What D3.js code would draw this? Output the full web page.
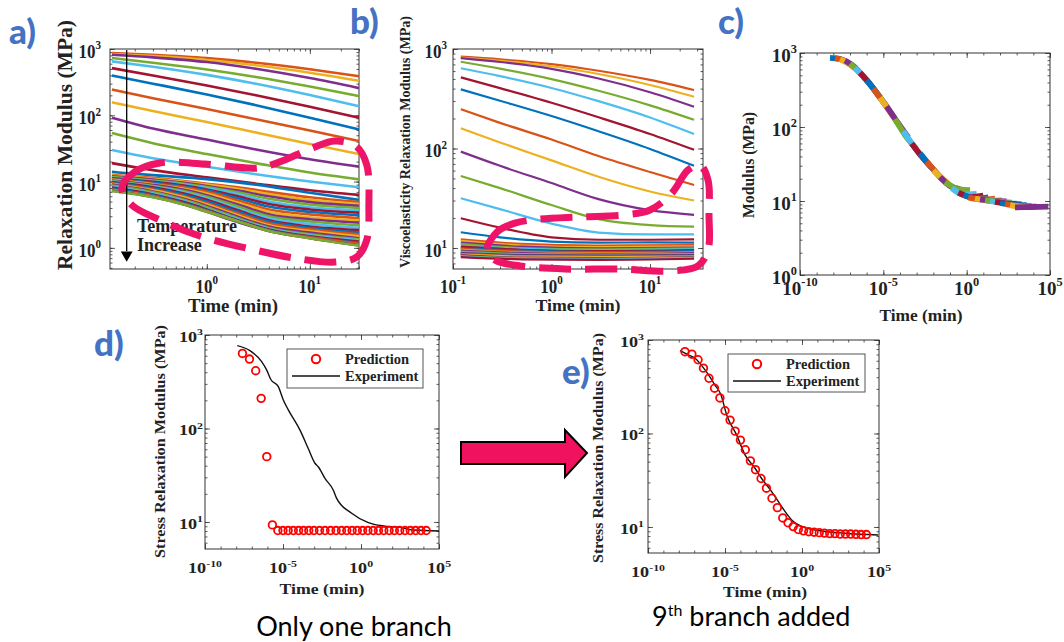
<!DOCTYPE html>
<html><head><meta charset="utf-8">
<script src="https://cdn.jsdelivr.net/npm/d3@7"></script>
<style>
body{margin:0;background:#fff}
svg{display:block;background:#fff}
.ser{font-family:"Liberation Serif","Times New Roman",serif;font-weight:bold;fill:#222}
</style></head>
<body><svg id="fig" width="1064" height="642"></svg>
<script>
// ---------------- DATA ----------------
const matlabColors = ["#0072BD","#D95319","#EDB120","#7E2F8E","#77AC30","#4DBEEE","#A2142F"];

// Panel a: relaxation modulus (MPa) vs time (min)
const aTime = [0.12, 0.3, 1, 3, 10, 30];
const aUpperCurves = [
  [871, 817, 729, 621, 495, 389],
  [840, 780, 684, 568, 438, 331],
  [820, 748, 635, 504, 364, 257],
  [730, 622, 491, 378, 271, 195],
  [650, 540, 407, 299, 202, 137],
  [515, 398, 282, 200, 135, 92],
  [397, 300, 206, 142, 92, 61],
  [245, 181, 124, 87, 59, 41],
  [157, 116, 79, 55, 37, 26],
  [92, 63, 43, 30.5, 21.7, 16.8],
  [54, 38, 26, 19, 13.7, 10.8],
  [30, 22.5, 16.7, 12.9, 10, 8.2],
  [19, 14.9, 11.6, 9.3, 7.4, 6.3],
  [14, 12.5, 10.9, 9.0, 6.8, 5.3]
];
const aBundleTime = [0.12, 0.3, 0.6, 1, 2, 4, 10, 30];
const aBundleCurves = [
  [12.6, 11.4, 10.2, 9.3, 8.2, 7.0, 5.8, 4.9],
  [12.3, 11.0, 9.9, 9.0, 7.8, 6.5, 5.3, 4.6],
  [12.0, 10.7, 9.6, 8.6, 7.3, 6.0, 4.9, 4.3],
  [11.7, 10.4, 9.3, 8.3, 6.9, 5.5, 4.5, 4.0],
  [11.4, 10.1, 9.0, 8.0, 6.5, 5.0, 4.1, 3.7],
  [11.2, 9.9, 8.7, 7.6, 6.0, 4.6, 3.8, 3.4],
  [11.0, 9.6, 8.4, 7.3, 5.6, 4.2, 3.5, 3.1],
  [10.8, 9.3, 8.1, 7.0, 5.2, 3.8, 3.2, 2.8],
  [10.6, 9.1, 7.8, 6.6, 4.8, 3.5, 2.9, 2.6],
  [10.4, 8.9, 7.5, 6.2, 4.5, 3.2, 2.7, 2.4],
  [10.2, 8.6, 7.2, 5.9, 4.2, 3.0, 2.5, 2.2],
  [10.0, 8.4, 6.9, 5.6, 3.9, 2.8, 2.3, 2.0],
  [9.8, 8.2, 6.6, 5.3, 3.7, 2.6, 2.1, 1.85],
  [9.6, 7.9, 6.3, 5.0, 3.5, 2.5, 2.0, 1.7],
  [9.4, 7.6, 6.0, 4.7, 3.3, 2.35, 1.9, 1.6],
  [9.2, 7.4, 5.8, 4.5, 3.1, 2.2, 1.8, 1.5],
  [9.0, 7.1, 5.5, 4.3, 2.95, 2.1, 1.7, 1.4],
  [8.7, 6.9, 5.3, 4.1, 2.8, 2.0, 1.6, 1.35],
  [8.4, 6.6, 5.1, 3.9, 2.7, 1.95, 1.55, 1.3],
  [8.1, 6.4, 4.9, 3.8, 2.6, 1.9, 1.5, 1.25],
  [7.8, 6.2, 4.7, 3.7, 2.55, 1.85, 1.45, 1.2],
  [7.6, 6.0, 4.6, 3.6, 2.5, 1.8, 1.45, 1.15],
  [7.4, 5.9, 4.5, 3.55, 2.5, 1.8, 1.4, 1.1],
  [7.3, 5.85, 4.5, 3.5, 2.45, 1.8, 1.4, 1.1],
  [7.2, 5.8, 4.5, 3.5, 2.5, 1.8, 1.4, 1.08]
];
// dashed annotation outline in panel a (time, modulus)
const aHighlight = [[0.15,8.0],[0.2,14],[0.35,19.1],[0.96,18.4],[3.13,16.0],[5.1,19.8],[10.5,32],[17.5,41],[28,34.4],[35.7,17.8],[37.4,4.4],[35.7,1.32],[28.6,0.73],[17.5,0.61],[8.0,0.68],[2.92,0.93],[0.855,1.51],[0.35,2.64],[0.187,4.44]];
const aArrowTime = 0.167, aArrowFrom = 1000, aArrowTo = 0.68;

// Panel b: viscoelasticity relaxation modulus
const bTime = [0.12, 0.3, 1, 3, 10, 28];
const bUpperCurves = [
  [837, 787, 706, 605, 489, 387],
  [820, 762, 671, 561, 435, 331],
  [809, 740, 632, 505, 368, 263],
  [745, 634, 498, 380, 271, 194],
  [640, 533, 406, 299, 205, 140],
  [519, 404, 288, 206, 140, 97],
  [393, 302, 212, 149, 99, 67],
  [248, 181, 123, 84, 58, 43],
  [160, 115, 76, 52, 37, 30],
  [93, 67, 45, 31, 24, 21.5],
  [53, 40, 27, 19.5, 17, 16.4],
  [31.6, 24.6, 17.6, 14.3, 13.7, 13.7],
  [19.9, 16.0, 12.8, 12.1, 12.1, 12.2],
  [14.4, 12.8, 11.6, 11.3, 11.4, 11.3]
];
const bBundleTime = [0.12, 0.5, 3, 28];
const bBundleCurves = [
  [12.2, 11.0, 10.6, 10.7],[11.8, 10.6, 10.2, 10.4],[11.3, 10.3, 9.9, 10.1],
  [11.0, 10.0, 9.7, 9.9],[10.6, 9.8, 9.5, 9.7],[10.3, 9.6, 9.3, 9.5],
  [10.0, 9.4, 9.1, 9.3],[9.8, 9.2, 9.0, 9.1],[9.6, 9.0, 8.8, 9.0],
  [9.4, 8.9, 8.7, 8.9],[9.2, 8.7, 8.6, 8.7],[9.0, 8.6, 8.5, 8.6],
  [8.9, 8.5, 8.4, 8.5],[8.8, 8.4, 8.3, 8.4],[8.7, 8.3, 8.2, 8.3],
  [8.6, 8.2, 8.1, 8.2],[8.5, 8.0, 7.9, 8.1],[8.3, 7.9, 7.8, 8.0],
  [8.2, 7.8, 7.7, 7.9],[8.1, 7.7, 7.6, 7.8]
];
const bHighlight = [[0.221,9.55],[0.28,14.5],[0.425,17.8],[0.764,19.5],[1.95,20.5],[5.57,21.5],[10.0,24.1],[16.7,35.7],[24.3,60.8],[32.2,68.2],[38.8,48.2],[39.7,21.5],[38.8,9.55],[30.7,6.6],[16.0,5.87],[4.95,6.15],[1.37,6.15],[0.479,6.6],[0.267,7.57]];

// Panel c: shifted master-curve segments, [log10 time, modulus]
const cSegments = [
  [[-8.2,860],[-7.6,830],[-7.0,700]],
  [[-7.9,850],[-7.3,780],[-6.7,620]],
  [[-7.6,820],[-7.0,700],[-6.4,540]],
  [[-7.3,790],[-6.7,640],[-6.1,450]],
  [[-7.0,720],[-6.4,540],[-5.8,380]],
  [[-6.7,630],[-6.1,450],[-5.5,310]],
  [[-6.4,540],[-5.8,380],[-5.2,250]],
  [[-6.0,430],[-5.4,290],[-4.8,190]],
  [[-5.6,330],[-5.0,215],[-4.4,140]],
  [[-5.2,250],[-4.6,160],[-4.0,102]],
  [[-4.8,190],[-4.2,120],[-3.5,72]],
  [[-4.3,128],[-3.7,78],[-3.0,50]],
  [[-3.8,88],[-3.2,56],[-2.6,38]],
  [[-3.3,60],[-2.7,40],[-2.1,28]],
  [[-2.8,44],[-2.2,30],[-1.6,21]],
  [[-2.4,34],[-1.8,24],[-1.2,17.5]],
  [[-2.0,26],[-1.4,19.5],[-0.8,15]],
  [[-1.6,21],[-1.0,16],[-0.4,14.5]],
  [[-1.3,18],[-0.5,14.5],[0.2,14]],
  [[-0.9,15],[-0.2,12.2],[0.6,12.5]],
  [[-0.5,13],[0.3,11.3],[1.0,11.8]],
  [[-0.2,12],[0.6,10.8],[1.3,11.2]],
  [[0.1,11.2],[0.9,10.5],[1.7,10.8]],
  [[0.5,10.8],[1.3,10.2],[2.1,10.3]],
  [[0.8,10.5],[1.6,10.0],[2.4,9.9]],
  [[1.1,10.2],[1.9,9.8],[2.7,9.5]],
  [[1.4,10.0],[2.2,9.4],[3.0,9.2]],
  [[1.7,9.7],[2.5,9.2],[3.3,9.0]],
  [[2.0,9.4],[2.8,8.9],[3.6,8.8]],
  [[2.3,9.1],[3.1,8.6],[3.9,8.6]],
  [[2.6,8.8],[3.4,8.3],[4.2,8.5]],
  [[2.9,8.2],[3.9,8.3],[4.9,8.4]]
];

// Panels d, e: prediction vs experiment, [log10 time]
const predLogTime = [-7.6,-7.15,-6.75,-6.4,-6.04,-5.68,-5.33,-5.0,-4.67,-4.34,-4.0,-3.68,-3.35,-3.02,-2.66,-2.31,-1.95,-1.6,-1.25,-0.91,-0.57,-0.24,0.1,0.44,0.78,1.12,1.46,1.8,2.14,2.48,2.82,3.16,3.5,3.84,4.18];
const dPrediction = [635,553,415,210,50,9.3,8.1,8.1,8.1,8.1,8.1,8.1,8.1,8.1,8.1,8.1,8.1,8.1,8.1,8.1,8.1,8.1,8.1,8.1,8.1,8.1,8.1,8.1,8.1,8.1,8.1,8.1,8.1,8.1,8.1];
const ePrediction = [750,705,615,500,390,305,240,175,139,106,85,67,51,41,33,26,20.3,16.1,12.5,11.1,10.1,9.4,9.1,8.9,8.8,8.7,8.6,8.5,8.5,8.4,8.4,8.4,8.35,8.3,8.3];
const dExpLogTime = [-7.93,-7.12,-6.37,-6.05,-5.79,-5.3,-4.98,-4.66,-3.91,-3.38,-2.95,-2.74,-2.31,-1.78,-1.56,-0.6,0.47,1.43,2.5,3.35,5.02];
const dExperiment = [770,680,518,423,336,280,202,158,96,61,42.5,39,29.3,22,17.9,12.4,9.84,9.06,8.77,8.2,8.0];
const eExpLogTime = [-7.92,-7.38,-6.95,-6.3,-5.65,-5.26,-4.89,-4.24,-3.7,-3.05,-2.62,-1.97,-1.32,-0.67,0.19,1.28,2.79,4.95];
const eExperiment = [770,692,637,479,330,258,158,96,59,42.5,33,23.9,16.5,11.9,9.84,9.06,8.57,8.2];

// ---------------- DRAWING ----------------
const svg = d3.select("#fig");
const defs = svg.append("defs");
const AX = "#333";
const PINK = "#EE1468";

function logTicks(domain, subs) {
  const out = [];
  const lo = Math.floor(Math.log10(domain[0])), hi = Math.ceil(Math.log10(domain[1]));
  for (let e = lo; e <= hi; e++) for (const k of subs) {
    const v = k * Math.pow(10, e);
    if (v >= domain[0] * 0.999 && v <= domain[1] * 1.001) out.push(v);
  }
  return out;
}
function tickAxis(g, axisFn, scale, tr, values, len) {
  const a = g.append("g").attr("transform", tr)
    .call(axisFn(scale).tickValues(values).tickSizeInner(-len).tickSizeOuter(0).tickFormat(""));
  a.select(".domain").remove();
  a.selectAll("text").remove();
  a.selectAll("line").attr("stroke", AX).attr("stroke-width", 0.8);
}
function supLabel(g, x, y, exp, fs, anchor, sx, sy) {
  const t = g.append("text").attr("class", "ser")
    .attr("transform", `translate(${x},${y}) scale(${sx},${sy})`)
    .attr("font-size", fs).attr("text-anchor", anchor);
  t.append("tspan").text("10");
  t.append("tspan").attr("dy", -0.45 * fs).attr("font-size", 0.65 * fs).text(exp);
}

let clipId = 0;
function panel(p) {
  const g = svg.append("g");
  const x = d3.scaleLog().domain(p.xDomain).range([p.left, p.right]);
  const y = d3.scaleLog().domain(p.yDomain).range([p.bottom, p.top]);
  const id = "clip" + (clipId++);
  defs.append("clipPath").attr("id", id).append("rect")
    .attr("x", p.left).attr("y", p.top).attr("width", p.right - p.left).attr("height", p.bottom - p.top);
  const xMinor = logTicks(p.xDomain, p.xSubs), yMinor = logTicks(p.yDomain, [1,2,3,4,5,6,7,8,9]);
  const xMajor = p.xMajor.map(e => Math.pow(10, e)), yMajor = p.yMajor.map(e => Math.pow(10, e));
  tickAxis(g, d3.axisBottom, x, `translate(0,${p.bottom})`, xMinor, 2.5);
  tickAxis(g, d3.axisTop, x, `translate(0,${p.top})`, xMinor, 2.5);
  tickAxis(g, d3.axisLeft, y, `translate(${p.left},0)`, yMinor, 2.5);
  tickAxis(g, d3.axisRight, y, `translate(${p.right},0)`, yMinor, 2.5);
  tickAxis(g, d3.axisBottom, x, `translate(0,${p.bottom})`, xMajor, 5);
  tickAxis(g, d3.axisTop, x, `translate(0,${p.top})`, xMajor, 5);
  tickAxis(g, d3.axisLeft, y, `translate(${p.left},0)`, yMajor, 5);
  tickAxis(g, d3.axisRight, y, `translate(${p.right},0)`, yMajor, 5);
  g.append("rect").attr("x", p.left).attr("y", p.top).attr("width", p.right - p.left)
    .attr("height", p.bottom - p.top).attr("fill", "none").attr("stroke", AX).attr("stroke-width", 1);
  const sx = p.sx || 1, sy = p.sy || 1;
  p.xMajor.forEach(e => supLabel(g, x(Math.pow(10, e)), p.xLabelY, String(e), p.fs, "middle", sx, sy));
  p.yMajor.forEach(e => supLabel(g, p.yLabelX, y(Math.pow(10, e)) + 0.47 * p.fs * sy, String(e), p.fs, "end", sx, sy));
  g.append("text").attr("class", "ser").attr("x", p.xTitle[0]).attr("y", p.xTitle[1])
    .attr("font-size", p.titleFs).attr("text-anchor", "middle")
    .attr("textLength", p.xTitle[2]).attr("lengthAdjust", "spacingAndGlyphs").text("Time (min)");
  g.append("text").attr("class", "ser")
    .attr("transform", `translate(${p.yTitle[0]},${p.yTitle[1]}) rotate(-90)`)
    .attr("font-size", p.yTitleFs).attr("text-anchor", p.yTitleAnchor || "middle")
    .attr("textLength", p.yTitle[2]).attr("lengthAdjust", "spacingAndGlyphs").text(p.yTitleText);
  const plot = g.append("g").attr("clip-path", `url(#${id})`);
  return {g, x, y, plot};
}

function drawCurves(P, times, curves, colorOffset, width) {
  const line = d3.line().x(d => P.x(d[0])).y(d => P.y(d[1])).curve(d3.curveMonotoneX);
  curves.forEach((c, i) => {
    P.plot.append("path").attr("d", line(c.map((v, k) => [times[k], v])))
      .attr("fill", "none").attr("stroke", matlabColors[(i + colorOffset) % 7])
      .attr("stroke-width", width);
  });
}
function drawHighlight(P, pts) {
  const line = d3.line().x(d => P.x(d[0])).y(d => P.y(d[1])).curve(d3.curveCatmullRomClosed.alpha(0.5));
  P.g.append("path").attr("d", line(pts)).attr("fill", "none").attr("stroke", PINK)
    .attr("stroke-width", 7).attr("stroke-dasharray", "32,14");
}

// ---- panel a
const A = panel({left:110, right:359, top:49, bottom:269, xDomain:[0.115, 30], yDomain:[0.48, 1000],
  xSubs:[1,2,3,4,5,6,7,8,9], xMajor:[0,1], yMajor:[0,1,2,3], fs:17, sy:1.12, xLabelY:293, yLabelX:101,
  titleFs:18, xTitle:[233,312,90], yTitleFs:21, yTitle:[72,270,250], yTitleAnchor:"start",
  yTitleText:"Relaxation Modulus (MPa)"});
drawCurves(A, aTime, aUpperCurves, 1, 2.6);
drawCurves(A, aBundleTime, aBundleCurves, 1 + aUpperCurves.length, 2.6);
A.g.append("line").attr("x1", A.x(aArrowTime)).attr("x2", A.x(aArrowTime))
  .attr("y1", A.y(aArrowFrom) + 1).attr("y2", A.y(aArrowTo) - 8).attr("stroke", "#000").attr("stroke-width", 1.3);
A.g.append("path").attr("d", d3.symbol(d3.symbolTriangle, 60)())
  .attr("transform", `translate(${A.x(aArrowTime)},${A.y(aArrowTo) - 4}) rotate(180)`).attr("fill", "#000");
A.g.append("text").attr("class", "ser").attr("x", 137).attr("y", 232).attr("font-size", 18).attr("fill", "#111").text("Temperature");
A.g.append("text").attr("class", "ser").attr("x", 137).attr("y", 251).attr("font-size", 18).attr("fill", "#111").text("Increase");
drawHighlight(A, aHighlight);

// ---- panel b
const B = panel({left:453, right:703, top:49, bottom:269, xDomain:[0.1, 34.5], yDomain:[6.15, 1000],
  xSubs:[1,2,3,4,5,6,7,8,9], xMajor:[-1,0,1], yMajor:[1,2,3], fs:17, sy:1.12, xLabelY:293, yLabelX:447,
  titleFs:17, xTitle:[578,311,85], yTitleFs:14.3, yTitle:[410,268,252], yTitleAnchor:"start",
  yTitleText:"Viscoelasticity Relaxation Modulus (MPa)"});
drawCurves(B, bTime, bUpperCurves, 1, 2.2);
drawCurves(B, bBundleTime, bBundleCurves, 1 + bUpperCurves.length, 2.2);
drawHighlight(B, bHighlight);

// ---- panel c
const C = panel({left:800, right:1050, top:53, bottom:275, xDomain:[1e-10, 1e5], yDomain:[1, 1000],
  xSubs:[1], xMajor:[-10,-5,0,5], yMajor:[0,1,2,3], fs:19, xLabelY:295, yLabelX:797,
  titleFs:17, xTitle:[921,321,83], yTitleFs:16, yTitle:[754,165,106], yTitleText:"Modulus (MPa)"});
{
  const line = d3.line().x(d => C.x(Math.pow(10, d[0]))).y(d => C.y(d[1])).curve(d3.curveMonotoneX);
  cSegments.forEach((s, i) => {
    C.plot.append("path").attr("d", line(s)).attr("fill", "none")
      .attr("stroke", matlabColors[i % 7]).attr("stroke-width", 5.8);
  });
}

// ---- panels d, e
function predPanel(P, expT, expV, pred, legend) {
  const line = d3.line().x(d => P.x(Math.pow(10, d[0]))).y(d => P.y(d[1])).curve(d3.curveMonotoneX);
  P.plot.append("path").attr("d", line(expT.map((t, i) => [t, expV[i]])))
    .attr("fill", "none").attr("stroke", "#111").attr("stroke-width", 1.4);
  P.plot.selectAll("circle.pred").data(predLogTime.map((t, i) => [t, pred[i]])).join("circle")
    .attr("cx", d => P.x(Math.pow(10, d[0]))).attr("cy", d => P.y(d[1])).attr("r", 3.8)
    .attr("fill", "none").attr("stroke", "#FF0000").attr("stroke-width", 1.8);
  const [lx, ly, lw, lh] = legend;
  const lg = P.g.append("g").attr("transform", `translate(${lx},${ly})`);
  lg.append("rect").attr("width", lw).attr("height", lh).attr("fill", "#fff").attr("stroke", "#555").attr("stroke-width", 1);
  lg.append("circle").attr("cx", 29).attr("cy", 10).attr("r", 4.2).attr("fill", "none").attr("stroke", "#FF0000").attr("stroke-width", 2);
  lg.append("line").attr("x1", 5).attr("x2", 53).attr("y1", 27).attr("y2", 27).attr("stroke", "#111").attr("stroke-width", 1.4);
  lg.append("text").attr("class", "ser").attr("x", 58).attr("y", 15).attr("font-size", 14.5).text("Prediction");
  lg.append("text").attr("class", "ser").attr("x", 58).attr("y", 32).attr("font-size", 14.5).text("Experiment");
}
const D = panel({left:205, right:439, top:335, bottom:549, xDomain:[1e-10, 1e5], yDomain:[5.14, 1000],
  xSubs:[1], xMajor:[-10,-5,0,5], yMajor:[1,2,3], fs:14, sx:1.3, xLabelY:573, yLabelX:203,
  titleFs:15, xTitle:[322,594,85], yTitleFs:14, yTitle:[165,441.5,233], yTitleText:"Stress Relaxation Modulus (MPa)"});
predPanel(D, dExpLogTime, dExperiment, dPrediction, [287, 349, 136, 39]);

const E = panel({left:648, right:879, top:340, bottom:553, xDomain:[1e-10, 1e5], yDomain:[5.27, 1000],
  xSubs:[1], xMajor:[-10,-5,0,5], yMajor:[1,2,3], fs:14, sx:1.3, xLabelY:577, yLabelX:644,
  titleFs:15, xTitle:[765,597,84], yTitleFs:14, yTitle:[603,448,230], yTitleText:"Stress Relaxation Modulus (MPa)"});
predPanel(E, eExpLogTime, eExperiment, ePrediction, [728, 354, 137, 38]);

// ---- big arrow between d and e
svg.append("polygon")
  .attr("points", [[461,442],[565,442],[565,430],[587,453],[565,477],[565,464],[461,464]].map(p => p.join(",")).join(" "))
  .attr("fill", "#F0125F").attr("stroke", "#000").attr("stroke-width", 2).attr("stroke-linejoin", "miter");

// ---- panel letters and captions
const letters = [["a)", 9, 44], ["b)", 350, 34], ["c)", 718, 34], ["d)", 94, 356], ["e)", 562, 384]];
letters.forEach(([t, x, y]) => svg.append("text").attr("x", x).attr("y", y).attr("font-family", "Lato, 'Open Sans', sans-serif")
  .attr("font-weight", "900").attr("font-size", 35).attr("fill", "#4472C4").text(t));
svg.append("text").attr("x", 354).attr("y", 636).attr("text-anchor", "middle")
  .attr("font-family", "Lato, 'Open Sans', sans-serif").attr("font-size", 27).attr("fill", "#000").text("Only one branch");
{
  const t = svg.append("text").attr("x", 652).attr("y", 626)
    .attr("font-family", "Lato, 'Open Sans', sans-serif").attr("font-size", 27).attr("fill", "#000");
  t.append("tspan").text("9");
  t.append("tspan").attr("dy", -10).attr("font-size", 16).text("th");
  t.append("tspan").attr("dy", 10).text(" branch added");
}
</script></body></html>
